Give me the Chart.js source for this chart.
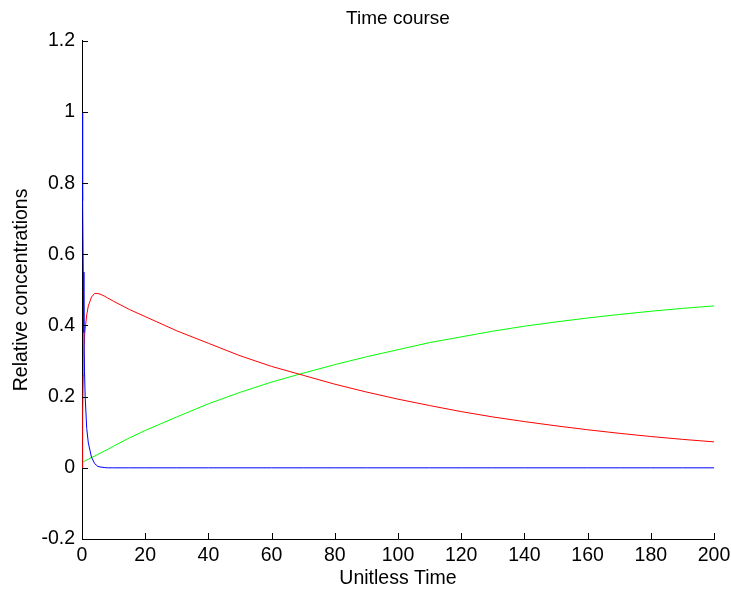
<!DOCTYPE html>
<html lang="en">
  <head>
    <meta charset="UTF-8" />
    <title>Time course</title>
    <script src="https://cdn.jsdelivr.net/npm/chart.js"></script>
    <style>
      html, body { margin: 0; padding: 0; background: #fff; }
      #wrap { width: 731px; height: 590px; }
    </style>
  </head>
  <body>
    <div id="wrap"><canvas id="timeCourse" width="731" height="590"></canvas></div>
    <script>
      // values
      const times = [0, 0.2, 0.4, 0.6, 0.8, 1, 1.5, 2, 3, 4, 5, 6, 7, 8, 10, 15, 20, 30, 40, 50, 60, 70, 80, 90, 100, 110, 120, 130, 140, 150, 160, 170, 180, 190, 200];
      const blueSeries = [1, 0.75, 0.55, 0.38, 0.27, 0.2, 0.11, 0.07, 0.03, 0.012, 0.004, 0.002, 0.001, 0, 0, 0, 0, 0, 0, 0, 0, 0, 0, 0, 0, 0, 0, 0, 0, 0, 0, 0, 0, 0, 0];
      const redSeries = [0, 0.15, 0.26, 0.33, 0.37, 0.39, 0.43, 0.455, 0.48, 0.49, 0.49, 0.487, 0.483, 0.478, 0.468, 0.445, 0.425, 0.385, 0.35, 0.315, 0.285, 0.26, 0.235, 0.213, 0.193, 0.175, 0.158, 0.143, 0.13, 0.118, 0.107, 0.097, 0.088, 0.08, 0.073];
      const greenSeries = [0.015, 0.016, 0.017, 0.018, 0.019, 0.02, 0.022, 0.024, 0.029, 0.033, 0.038, 0.042, 0.047, 0.051, 0.061, 0.084, 0.105, 0.143, 0.18, 0.212, 0.241, 0.266, 0.29, 0.312, 0.332, 0.352, 0.368, 0.384, 0.398, 0.41, 0.421, 0.431, 0.44, 0.448, 0.455];

      const FONT = { family: "'Liberation Sans', Arial, sans-serif", size: 19.5 };

      function pts(ys) {
        return times.map((t, i) => ({ x: t, y: ys[i] }));
      }

      function line(ys, color) {
        return {
          data: pts(ys),
          borderColor: color,
          borderWidth: 1,
          pointRadius: 0,
          tension: 0,
          fill: false,
        };
      }

      // MATLAB-style ticks pointing into the plot
      const inwardTicks = {
        id: "inwardTicks",
        afterDatasetsDraw(chart) {
          const { ctx, chartArea, scales } = chart;
          ctx.save();
          ctx.strokeStyle = "#000";
          ctx.lineWidth = 1;
          ctx.beginPath();
          scales.x.ticks.forEach((t) => {
            const px = Math.round(scales.x.getPixelForValue(t.value)) + 0.5;
            ctx.moveTo(px, chartArea.bottom);
            ctx.lineTo(px, chartArea.bottom - 6);
          });
          scales.y.ticks.forEach((t) => {
            const py = Math.round(scales.y.getPixelForValue(t.value)) + 0.5;
            ctx.moveTo(chartArea.left, py);
            ctx.lineTo(chartArea.left + 6, py);
          });
          ctx.stroke();
          ctx.restore();
        },
      };

      new Chart(document.getElementById("timeCourse"), {
        type: "line",
        data: {
          datasets: [
            line(blueSeries, "#0000ff"),
            line(redSeries, "#ff0000"),
            line(greenSeries, "#00ff00"),
          ],
        },
        options: {
          responsive: false,
          animation: false,
          layout: { padding: { left: 0, right: 17, top: 0, bottom: 0 } },
          plugins: {
            legend: { display: false },
            tooltip: { enabled: false },
            title: {
              display: true,
              text: "Time course",
              fullSize: false,
              color: "#000",
              font: { ...FONT, size: 19, weight: "normal" },
              padding: { top: 7, bottom: 11 },
            },
          },
          scales: {
            x: {
              type: "linear",
              min: 0,
              max: 200,
              afterFit: (s) => {
                s.height = 51;
                s.paddingLeft = 0;
                s.paddingRight = 0;
              },
              grid: { display: false, drawTicks: false, tickLength: 0 },
              border: { display: true, color: "#000", width: 1 },
              ticks: { stepSize: 20, color: "#000", font: FONT, padding: 5, maxRotation: 0 },
              title: { display: true, text: "Unitless Time", color: "#000", font: FONT, padding: { top: 0, bottom: 0 } },
            },
            y: {
              min: -0.2,
              max: 1.2,
              afterFit: (s) => {
                s.width = 82;
                s.paddingTop = 0;
                s.paddingBottom = 0;
              },
              grid: { display: false, drawTicks: false, tickLength: 0 },
              border: { display: true, color: "#000", width: 1 },
              ticks: {
                stepSize: 0.2,
                color: "#000",
                font: FONT,
                padding: 7,
                callback: (v) => String(Number(v.toFixed(1))),
              },
              title: { display: true, text: "Relative concentrations", color: "#000", font: FONT, padding: { top: 10, bottom: 0 } },
            },
          },
        },
        plugins: [inwardTicks],
      });
    </script>
  </body>
</html>
